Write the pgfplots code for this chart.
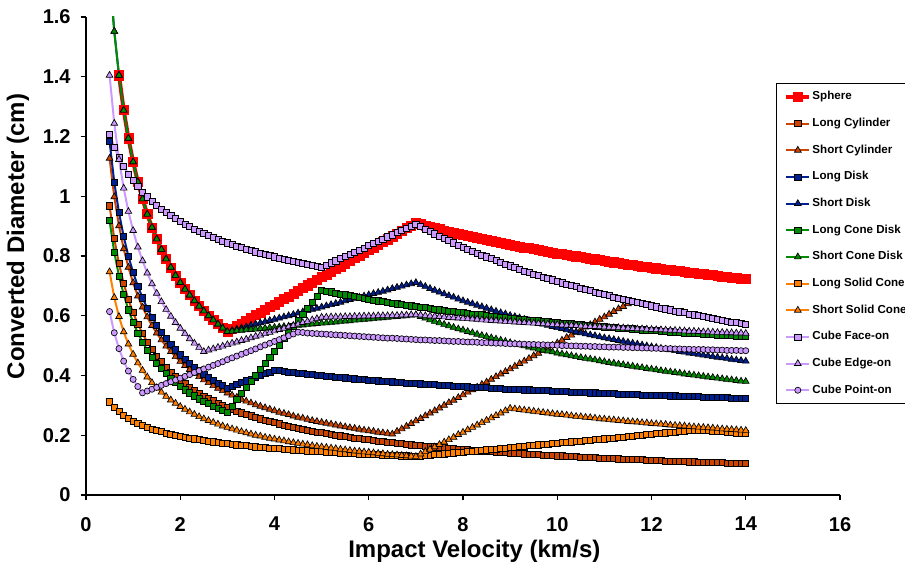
\documentclass[border=0pt]{standalone}
\usepackage{fontspec}
\setmainfont{Liberation Sans}
\usepackage{pgfplots}
\usepackage{pgfplotstable}
\pgfplotsset{compat=1.18}

\definecolor{sph}{RGB}{255,0,0}
\definecolor{cyl}{RGB}{204,68,0}
\definecolor{dsk}{RGB}{0,32,144}
\definecolor{grn}{RGB}{0,140,0}
\definecolor{org}{RGB}{255,128,0}
\definecolor{lav}{RGB}{204,153,255}

% converted diameter (cm) against impact velocity (km/s)
\pgfplotstableread{
v sph lcyl scyl ldisk sdisk lcone scone lsolid ssolid face edge point
0.5 nan 0.968 1.127 1.183 1.747 0.918 1.747 0.312 0.747 1.208 1.405 0.614
0.6 nan 0.858 0.998 1.047 1.552 0.812 1.552 0.293 0.661 1.165 1.244 0.543
0.7 1.405 0.774 0.901 0.945 1.405 0.733 1.405 0.279 0.597 1.129 1.123 0.490
0.8 1.288 0.708 0.824 0.865 1.288 0.671 1.288 0.267 0.546 1.100 1.027 0.448
0.9 1.194 0.654 0.762 0.799 1.194 0.620 1.194 0.256 0.505 1.074 0.949 0.415
1.0 1.115 0.610 0.710 0.745 1.115 0.578 1.115 0.248 0.471 1.052 0.885 0.387
1.1 1.048 0.572 0.666 0.699 1.048 0.542 1.048 0.240 0.442 1.032 0.830 0.363
1.2 0.991 0.540 0.629 0.660 0.991 0.512 0.991 0.233 0.417 1.014 0.784 0.342
1.3 0.940 0.512 0.596 0.625 0.940 0.485 0.940 0.227 0.395 0.998 0.743 0.348
1.4 0.896 0.487 0.567 0.595 0.896 0.462 0.896 0.221 0.376 0.983 0.707 0.354
1.5 0.857 0.465 0.542 0.569 0.857 0.441 0.857 0.216 0.359 0.970 0.675 0.360
1.6 0.822 0.446 0.519 0.545 0.822 0.423 0.822 0.212 0.344 0.957 0.647 0.367
1.7 0.790 0.428 0.498 0.523 0.790 0.406 0.790 0.207 0.330 0.946 0.621 0.373
1.8 0.762 0.412 0.480 0.503 0.762 0.391 0.762 0.203 0.318 0.935 0.598 0.379
1.9 0.735 0.398 0.463 0.486 0.735 0.377 0.735 0.200 0.307 0.925 0.577 0.385
2.0 0.711 0.384 0.447 0.469 0.711 0.364 0.711 0.196 0.296 0.916 0.558 0.391
2.1 0.689 0.372 0.433 0.454 0.689 0.352 0.689 0.193 0.287 0.907 0.540 0.397
2.2 0.669 0.361 0.420 0.440 0.669 0.342 0.669 0.190 0.278 0.898 0.523 0.403
2.3 0.650 0.350 0.407 0.428 0.650 0.332 0.650 0.188 0.270 0.890 0.508 0.410
2.4 0.632 0.340 0.396 0.416 0.632 0.322 0.632 0.185 0.262 0.883 0.494 0.416
2.5 0.616 0.331 0.385 0.404 0.616 0.314 0.616 0.182 0.255 0.876 0.480 0.422
2.6 0.600 0.323 0.376 0.394 0.600 0.306 0.600 0.180 0.249 0.869 0.485 0.428
2.7 0.586 0.315 0.366 0.384 0.586 0.298 0.586 0.178 0.243 0.862 0.489 0.434
2.8 0.572 0.307 0.357 0.375 0.572 0.291 0.572 0.176 0.237 0.856 0.494 0.440
2.9 0.559 0.300 0.349 0.366 0.559 0.284 0.559 0.174 0.231 0.850 0.498 0.446
3.0 0.547 0.293 0.341 0.358 0.547 0.278 0.547 0.172 0.226 0.844 0.503 0.453
3.1 0.556 0.287 0.334 0.364 0.551 0.298 0.548 0.170 0.221 0.839 0.508 0.459
3.2 0.565 0.281 0.327 0.370 0.555 0.319 0.550 0.168 0.217 0.833 0.512 0.465
3.3 0.574 0.275 0.320 0.376 0.559 0.339 0.551 0.166 0.212 0.828 0.517 0.471
3.4 0.583 0.270 0.314 0.382 0.563 0.360 0.553 0.165 0.208 0.823 0.521 0.477
3.5 0.593 0.265 0.308 0.388 0.568 0.380 0.554 0.163 0.204 0.819 0.526 0.483
3.6 0.602 0.260 0.302 0.394 0.572 0.400 0.555 0.161 0.200 0.814 0.531 0.489
3.7 0.611 0.255 0.297 0.400 0.576 0.421 0.557 0.160 0.197 0.810 0.535 0.496
3.8 0.620 0.251 0.292 0.406 0.580 0.441 0.558 0.159 0.193 0.805 0.540 0.502
3.9 0.629 0.246 0.287 0.412 0.584 0.462 0.560 0.157 0.190 0.801 0.544 0.508
4.0 0.638 0.242 0.282 0.418 0.588 0.482 0.561 0.156 0.187 0.797 0.549 0.514
4.1 0.647 0.238 0.277 0.416 0.592 0.502 0.562 0.155 0.184 0.793 0.554 0.520
4.2 0.656 0.234 0.273 0.414 0.596 0.523 0.564 0.153 0.181 0.789 0.558 0.526
4.3 0.665 0.231 0.269 0.412 0.600 0.543 0.565 0.152 0.178 0.786 0.563 0.533
4.4 0.674 0.227 0.264 0.410 0.604 0.564 0.567 0.151 0.175 0.782 0.567 0.539
4.5 0.684 0.224 0.260 0.408 0.609 0.584 0.568 0.150 0.173 0.778 0.572 0.545
4.6 0.693 0.221 0.257 0.406 0.613 0.604 0.569 0.149 0.170 0.775 0.577 0.544
4.7 0.702 0.217 0.253 0.405 0.617 0.625 0.571 0.148 0.168 0.772 0.581 0.542
4.8 0.711 0.214 0.249 0.403 0.621 0.645 0.572 0.147 0.165 0.768 0.586 0.541
4.9 0.720 0.211 0.246 0.401 0.625 0.666 0.574 0.146 0.163 0.765 0.590 0.540
5.0 0.729 0.209 0.243 0.400 0.629 0.686 0.575 0.145 0.161 0.762 0.595 0.539
5.1 0.738 0.206 0.240 0.398 0.633 0.683 0.576 0.144 0.159 0.769 0.595 0.538
5.2 0.747 0.203 0.237 0.396 0.637 0.680 0.578 0.143 0.157 0.777 0.596 0.537
5.3 0.756 0.201 0.234 0.395 0.641 0.676 0.579 0.142 0.155 0.784 0.596 0.536
5.4 0.765 0.198 0.231 0.393 0.645 0.673 0.581 0.141 0.153 0.791 0.596 0.535
5.5 0.775 0.196 0.228 0.392 0.650 0.670 0.582 0.140 0.151 0.798 0.597 0.534
5.6 0.784 0.193 0.225 0.391 0.654 0.667 0.583 0.139 0.149 0.806 0.597 0.533
5.7 0.793 0.191 0.223 0.389 0.658 0.664 0.585 0.139 0.147 0.813 0.598 0.532
5.8 0.802 0.189 0.220 0.388 0.662 0.661 0.586 0.138 0.146 0.820 0.598 0.531
5.9 0.811 0.187 0.217 0.386 0.666 0.658 0.588 0.137 0.144 0.827 0.599 0.530
6.0 0.820 0.185 0.215 0.385 0.670 0.655 0.589 0.136 0.143 0.835 0.599 0.529
6.1 0.829 0.183 0.213 0.384 0.674 0.652 0.590 0.135 0.141 0.842 0.599 0.528
6.2 0.838 0.181 0.210 0.382 0.678 0.650 0.592 0.135 0.139 0.849 0.600 0.527
6.3 0.847 0.179 0.208 0.381 0.682 0.647 0.593 0.134 0.138 0.856 0.600 0.526
6.4 0.856 0.177 0.206 0.380 0.686 0.645 0.595 0.133 0.136 0.864 0.600 0.525
6.5 0.866 0.175 0.204 0.379 0.691 0.642 0.596 0.133 0.135 0.871 0.601 0.525
6.6 0.875 0.173 0.213 0.378 0.695 0.640 0.597 0.132 0.134 0.878 0.601 0.524
6.7 0.884 0.172 0.221 0.376 0.699 0.638 0.599 0.131 0.132 0.885 0.602 0.523
6.8 0.893 0.170 0.230 0.375 0.703 0.635 0.600 0.131 0.131 0.893 0.602 0.522
6.9 0.902 0.168 0.239 0.374 0.707 0.633 0.602 0.130 0.130 0.900 0.603 0.521
7.0 0.911 0.167 0.248 0.373 0.711 0.631 0.603 0.129 0.129 0.907 0.603 0.520
7.1 0.907 0.165 0.256 0.372 0.704 0.629 0.597 0.130 0.137 0.898 0.602 0.519
7.2 0.902 0.164 0.265 0.371 0.698 0.627 0.592 0.132 0.145 0.890 0.600 0.519
7.3 0.898 0.162 0.274 0.370 0.691 0.624 0.586 0.133 0.153 0.882 0.599 0.518
7.4 0.894 0.161 0.282 0.369 0.685 0.622 0.581 0.135 0.161 0.874 0.598 0.517
7.5 0.890 0.159 0.291 0.368 0.679 0.620 0.576 0.136 0.169 0.866 0.597 0.517
7.6 0.886 0.158 0.300 0.367 0.673 0.618 0.571 0.138 0.177 0.859 0.596 0.516
7.7 0.882 0.156 0.309 0.366 0.667 0.616 0.566 0.139 0.185 0.851 0.594 0.515
7.8 0.879 0.155 0.317 0.365 0.662 0.614 0.561 0.141 0.193 0.844 0.593 0.514
7.9 0.875 0.154 0.326 0.364 0.656 0.612 0.556 0.142 0.202 0.837 0.592 0.514
8.0 0.871 0.153 0.335 0.363 0.650 0.610 0.552 0.144 0.210 0.830 0.591 0.513
8.1 0.868 0.151 0.344 0.362 0.645 0.608 0.547 0.145 0.218 0.823 0.590 0.512
8.2 0.864 0.150 0.352 0.361 0.640 0.606 0.543 0.147 0.226 0.816 0.589 0.512
8.3 0.861 0.149 0.361 0.361 0.635 0.605 0.538 0.148 0.234 0.809 0.588 0.511
8.4 0.857 0.148 0.370 0.360 0.630 0.603 0.534 0.150 0.242 0.803 0.586 0.510
8.5 0.854 0.146 0.378 0.359 0.625 0.601 0.530 0.151 0.250 0.797 0.585 0.510
8.6 0.851 0.145 0.387 0.358 0.620 0.599 0.526 0.153 0.258 0.791 0.584 0.509
8.7 0.848 0.144 0.396 0.357 0.615 0.597 0.522 0.154 0.266 0.785 0.583 0.508
8.8 0.844 0.143 0.405 0.356 0.610 0.596 0.518 0.156 0.274 0.779 0.582 0.508
8.9 0.841 0.142 0.413 0.355 0.606 0.594 0.514 0.157 0.282 0.773 0.581 0.507
9.0 0.838 0.141 0.422 0.355 0.601 0.592 0.510 0.159 0.290 0.767 0.580 0.506
9.1 0.835 0.140 0.431 0.354 0.597 0.590 0.506 0.160 0.288 0.761 0.579 0.506
9.2 0.832 0.139 0.440 0.353 0.593 0.589 0.503 0.162 0.286 0.756 0.578 0.505
9.3 0.829 0.138 0.448 0.352 0.588 0.587 0.499 0.163 0.284 0.750 0.577 0.505
9.4 0.826 0.137 0.457 0.352 0.584 0.586 0.495 0.165 0.282 0.745 0.576 0.504
9.5 0.823 0.136 0.466 0.351 0.580 0.584 0.492 0.166 0.280 0.740 0.575 0.504
9.6 0.820 0.135 0.474 0.350 0.576 0.583 0.488 0.168 0.278 0.735 0.574 0.503
9.7 0.817 0.134 0.483 0.349 0.572 0.581 0.485 0.169 0.276 0.730 0.573 0.503
9.8 0.815 0.133 0.492 0.349 0.568 0.580 0.482 0.171 0.274 0.725 0.572 0.502
9.9 0.812 0.132 0.501 0.348 0.564 0.578 0.479 0.172 0.272 0.720 0.571 0.502
10.0 0.809 0.131 0.509 0.347 0.560 0.577 0.475 0.174 0.270 0.715 0.570 0.501
10.1 0.806 0.131 0.518 0.346 0.557 0.576 0.472 0.175 0.269 0.710 0.569 0.500
10.2 0.804 0.130 0.527 0.346 0.553 0.574 0.469 0.176 0.267 0.706 0.568 0.500
10.3 0.801 0.129 0.535 0.345 0.550 0.573 0.466 0.178 0.265 0.701 0.568 0.499
10.4 0.799 0.128 0.544 0.344 0.546 0.571 0.463 0.179 0.263 0.697 0.567 0.499
10.5 0.796 0.127 0.553 0.344 0.543 0.570 0.460 0.181 0.262 0.692 0.566 0.498
10.6 0.794 0.126 0.562 0.343 0.539 0.569 0.457 0.182 0.260 0.688 0.565 0.498
10.7 0.791 0.126 0.570 0.342 0.536 0.567 0.455 0.184 0.259 0.684 0.564 0.497
10.8 0.789 0.125 0.579 0.342 0.533 0.566 0.452 0.185 0.257 0.679 0.564 0.497
10.9 0.786 0.124 0.588 0.341 0.529 0.564 0.449 0.187 0.255 0.675 0.563 0.496
11.0 0.784 0.123 0.596 0.340 0.526 0.563 0.446 0.188 0.254 0.671 0.562 0.496
11.1 0.782 0.123 0.605 0.340 0.523 0.562 0.443 0.190 0.252 0.667 0.561 0.495
11.2 0.779 0.122 0.614 0.339 0.520 0.561 0.441 0.191 0.251 0.663 0.560 0.495
11.3 0.777 0.121 0.623 0.338 0.517 0.559 0.438 0.193 0.249 0.659 0.560 0.495
11.4 0.774 0.120 0.631 0.338 0.514 0.558 0.436 0.194 0.248 0.655 0.559 0.494
11.5 0.772 0.120 0.640 0.337 0.511 0.557 0.433 0.196 0.246 0.651 0.558 0.494
11.6 0.770 0.119 nan 0.337 0.508 0.556 0.431 0.197 0.245 0.648 0.557 0.493
11.7 0.768 0.118 nan 0.336 0.505 0.554 0.428 0.199 0.244 0.644 0.556 0.493
11.8 0.765 0.118 nan 0.335 0.502 0.553 0.426 0.200 0.242 0.641 0.556 0.492
11.9 0.763 0.117 nan 0.335 0.499 0.552 0.423 0.202 0.241 0.637 0.555 0.492
12.0 0.761 0.116 nan 0.334 0.496 0.551 0.421 0.203 0.239 0.633 0.554 0.491
12.1 0.759 0.116 nan 0.334 0.494 0.550 0.419 0.205 0.238 0.630 0.553 0.491
12.2 0.757 0.115 nan 0.333 0.491 0.549 0.416 0.206 0.237 0.626 0.553 0.490
12.3 0.755 0.114 nan 0.333 0.488 0.548 0.414 0.208 0.236 0.623 0.552 0.490
12.4 0.753 0.114 nan 0.332 0.486 0.546 0.412 0.209 0.234 0.620 0.551 0.490
12.5 0.751 0.113 nan 0.332 0.483 0.545 0.410 0.211 0.233 0.616 0.551 0.489
12.6 0.749 0.113 nan 0.331 0.480 0.544 0.408 0.212 0.232 0.613 0.550 0.489
12.7 0.747 0.112 nan 0.330 0.478 0.543 0.405 0.214 0.231 0.610 0.549 0.488
12.8 0.745 0.111 nan 0.330 0.475 0.542 0.403 0.215 0.229 0.606 0.548 0.488
12.9 0.743 0.111 nan 0.329 0.473 0.541 0.401 0.217 0.228 0.603 0.548 0.487
13.0 0.741 0.110 nan 0.329 0.471 0.540 0.399 0.218 0.227 0.600 0.547 0.487
13.1 0.739 0.110 nan 0.328 0.468 0.539 0.397 0.217 0.226 0.597 0.546 0.487
13.2 0.737 0.109 nan 0.328 0.466 0.538 0.395 0.215 0.225 0.594 0.546 0.486
13.3 0.736 0.109 nan 0.327 0.463 0.537 0.393 0.214 0.224 0.591 0.545 0.486
13.4 0.734 0.108 nan 0.327 0.461 0.536 0.391 0.213 0.222 0.588 0.544 0.485
13.5 0.732 0.108 nan 0.326 0.459 0.535 0.389 0.212 0.221 0.585 0.544 0.485
13.6 0.730 0.107 nan 0.326 0.457 0.534 0.387 0.210 0.220 0.582 0.543 0.484
13.7 0.728 0.107 nan 0.325 0.454 0.533 0.385 0.209 0.219 0.579 0.543 0.484
13.8 0.727 0.106 nan 0.325 0.452 0.532 0.383 0.208 0.218 0.577 0.542 0.484
13.9 0.725 0.105 nan 0.324 0.450 0.531 0.381 0.206 0.217 0.574 0.542 0.483
14.0 0.723 0.105 nan 0.324 0.448 0.530 0.380 0.205 0.216 0.571 0.541 0.483
}\data

\pgfplotsset{
  sq/.style={line width=1.5pt, mark=square*, mark size=2.3pt,
    mark options={fill=#1, draw=black, line width=0.5pt}},
  tri/.style={line width=1.5pt, mark=triangle*, mark size=2.9pt,
    mark options={fill=#1, draw=black, line width=0.5pt}},
  cir/.style={line width=1.5pt, mark=*, mark size=2.3pt,
    mark options={fill=#1, draw=black, line width=0.5pt}},
}

\begin{document}
\begin{tikzpicture}
\useasboundingbox (0,0) rectangle (678.75pt,424.5pt);
\begin{axis}[
  at={(64.5pt,53.25pt)}, anchor=south west,
  scale only axis, width=565.5pt, height=358.5pt,
  xmin=0, xmax=16, ymin=0, ymax=1.6,
  xtick={0,2,...,16},
  ytick={0,0.2,0.4,0.6,0.8,1,1.2,1.4,1.6},
  axis lines*=left,
  axis line style={line width=1.1pt},
  tick align=outside, major tick length=4pt,
  tick style={line width=1.1pt, black},
  ticklabel style={font=\bfseries\fontsize{15}{15}\selectfont},
  xticklabel style={yshift=-9pt},
  yticklabel style={xshift=-4pt},
  /pgf/number format/assume math mode=true,
  xlabel={Impact Velocity (km/s)},
  ylabel={Converted Diameter (cm)},
  label style={font=\bfseries\fontsize{18}{18}\selectfont},
  xlabel style={at={(axis description cs:0.515,-0.117)}, anchor=center},
  ylabel style={at={(axis description cs:-0.0902,0.541)}, anchor=center},
  legend cell align=left,
  legend image code/.code={\draw[mark repeat=2,mark phase=2,#1]
    plot coordinates {(0pt,0pt) (8.5pt,0pt) (17pt,0pt)};},
  legend style={at={(0.9151,0.8619)}, anchor=north west,
    draw=black, line width=0.75pt, fill=white,
    font=\bfseries\fontsize{8.7}{9}\selectfont,
    inner xsep=6pt, inner ysep=5pt, row sep=9.9pt,
    nodes={inner sep=1pt, text height=6.3pt, text depth=1.8pt}},
]
\addplot[sph, line width=3pt, mark=square*, mark size=3.4pt,
  mark options={fill=sph, draw=sph, line width=0.4pt}]
  table[x=v, y=sph] {\data};
\addlegendentry{Sphere}
\addplot[cyl, sq=cyl] table[x=v, y=lcyl] {\data};
\addlegendentry{Long Cylinder}
\addplot[cyl, tri=cyl] table[x=v, y=scyl] {\data};
\addlegendentry{Short Cylinder}
\addplot[dsk, sq=dsk] table[x=v, y=ldisk] {\data};
\addlegendentry{Long Disk}
\addplot[dsk, tri=dsk] table[x=v, y=sdisk] {\data};
\addlegendentry{Short Disk}
\addplot[grn, sq=grn] table[x=v, y=lcone] {\data};
\addlegendentry{Long Cone Disk}
\addplot[grn, tri=grn] table[x=v, y=scone] {\data};
\addlegendentry{Short Cone Disk}
\addplot[org, sq=org] table[x=v, y=lsolid] {\data};
\addlegendentry{Long Solid Cone}
\addplot[org, tri=org] table[x=v, y=ssolid] {\data};
\addlegendentry{Short Solid Cone}
\addplot[lav, sq=lav] table[x=v, y=face] {\data};
\addlegendentry{Cube Face-on}
\addplot[lav, tri=lav] table[x=v, y=edge] {\data};
\addlegendentry{Cube Edge-on}
\addplot[lav, cir=lav] table[x=v, y=point] {\data};
\addlegendentry{Cube Point-on}
\end{axis}
\end{tikzpicture}
\end{document}
